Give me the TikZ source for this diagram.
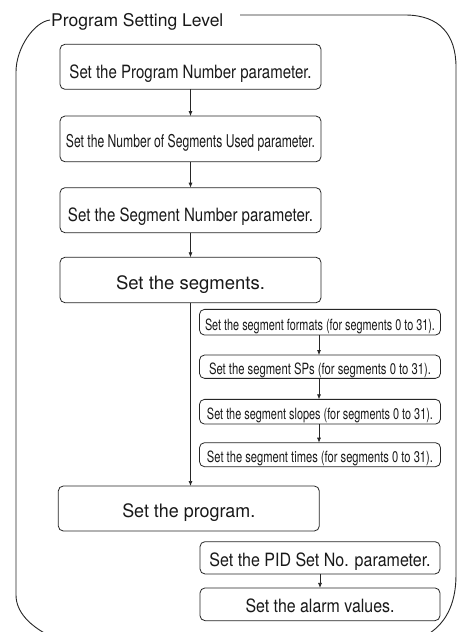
\documentclass[tikz,border=0pt]{standalone}
\usepackage{fontspec}
\setmainfont{TeX Gyre Heros}
\usetikzlibrary{arrows.meta}
\newcommand{\bt}[4]{\raisebox{-#1}{\fontsize{#2}{#2}\selectfont\resizebox{#3}{\height}{#4}}}
\begin{document}
\begin{tikzpicture}[x=1pt,y=-1pt,
  box/.style={draw=black!85, line width=0.8pt, rounded corners=5pt, inner sep=0pt, outer sep=0pt,
    text height=0pt, text depth=0pt, text=black!90},
  arr/.style={draw=black!85, line width=0.7pt, -{Latex[length=5pt,width=4pt]}},
  frame/.style={draw=black!85, line width=0.9pt}]
\fill[white] (0,0) rectangle (461,632);
\useasboundingbox (0,0) rectangle (461,632);
% outer frame
\draw[frame] (240,15) -- (405,15) .. controls (440,15) and (456,35) .. (456,67)
  -- (456,575) .. controls (456,605) and (445,625) .. (425,636)
  -- (50,636) .. controls (30,626) and (16,612) .. (16,595)
  -- (16,72) .. controls (16,48) and (34,22) .. (50,20);
\node[anchor=base west, inner sep=0pt, text=black!90] (title) at (51,26)
  {\fontsize{17.5}{17.5}\selectfont Program Setting Level};
% main column
\node[box, minimum width=261pt, minimum height=45pt] (b1) at (190.5,66.8)
  {\bt{12pt}{18.3}{242pt}{Set the Program Number parameter.}};
\node[box, minimum width=261pt, minimum height=45.7pt] (b2) at (190.5,138.9)
  {\bt{9pt}{17.6}{249pt}{Set the Number of Segments Used parameter.}};
\node[box, minimum width=261pt, minimum height=45pt] (b3) at (190.5,210.2)
  {\bt{11.3pt}{18.3}{245pt}{Set the Segment Number parameter.}};
\node[box, minimum width=261pt, minimum height=45.4pt] (b4) at (190.5,280)
  {\bt{9.3pt}{18.5}{149pt}{Set the segments.}};
% segment sub-steps
\node[box, minimum width=241pt, minimum height=25.7pt] (s1) at (320,322.2)
  {\bt{8pt}{15.5}{230pt}{Set the segment formats (for segments 0 to 31).}};
\node[box, minimum width=241pt, minimum height=23.3pt] (s2) at (320,366.7)
  {\bt{8pt}{15.5}{222pt}{Set the segment SPs (for segments 0 to 31).}};
\node[box, minimum width=241pt, minimum height=24.7pt] (s3) at (320,411.7)
  {\bt{8pt}{15.5}{226pt}{Set the segment slopes (for segments 0 to 31).}};
\node[box, minimum width=241pt, minimum height=24pt] (s4) at (320,454.7)
  {\bt{8pt}{15.5}{226pt}{Set the segment times (for segments 0 to 31).}};
% program
\node[box, minimum width=261pt, minimum height=45pt] (prog) at (188.8,508.5)
  {\bt{8.8pt}{18.5}{133pt}{Set the program.}};
\node[box, minimum width=240pt, minimum height=32.3pt] (pid) at (320,557.8)
  {\bt{8.2pt}{18.3}{221pt}{Set the PID Set No. parameter.}};
\node[box, minimum width=240pt, minimum height=32.7pt] (alarm) at (320,604.3)
  {\bt{8.4pt}{18.3}{149pt}{Set the alarm values.}};
% connectors
\draw[arr] (b1.south) -- (b2.north);
\draw[arr] (b2.south) -- (b3.north);
\draw[arr] (b3.south) -- (b4.north);
\draw[arr] (b4.south) -- (b4.south |- prog.north);
\draw[arr] (s1.south -| 319,0) -- (s2.north -| 319,0);
\draw[arr] (s2.south -| 319,0) -- (s3.north -| 319,0);
\draw[arr] (s3.south -| 319,0) -- (s4.north -| 319,0);
\draw[arr] (pid.south) -- (alarm.north);
\end{tikzpicture}
\end{document}
